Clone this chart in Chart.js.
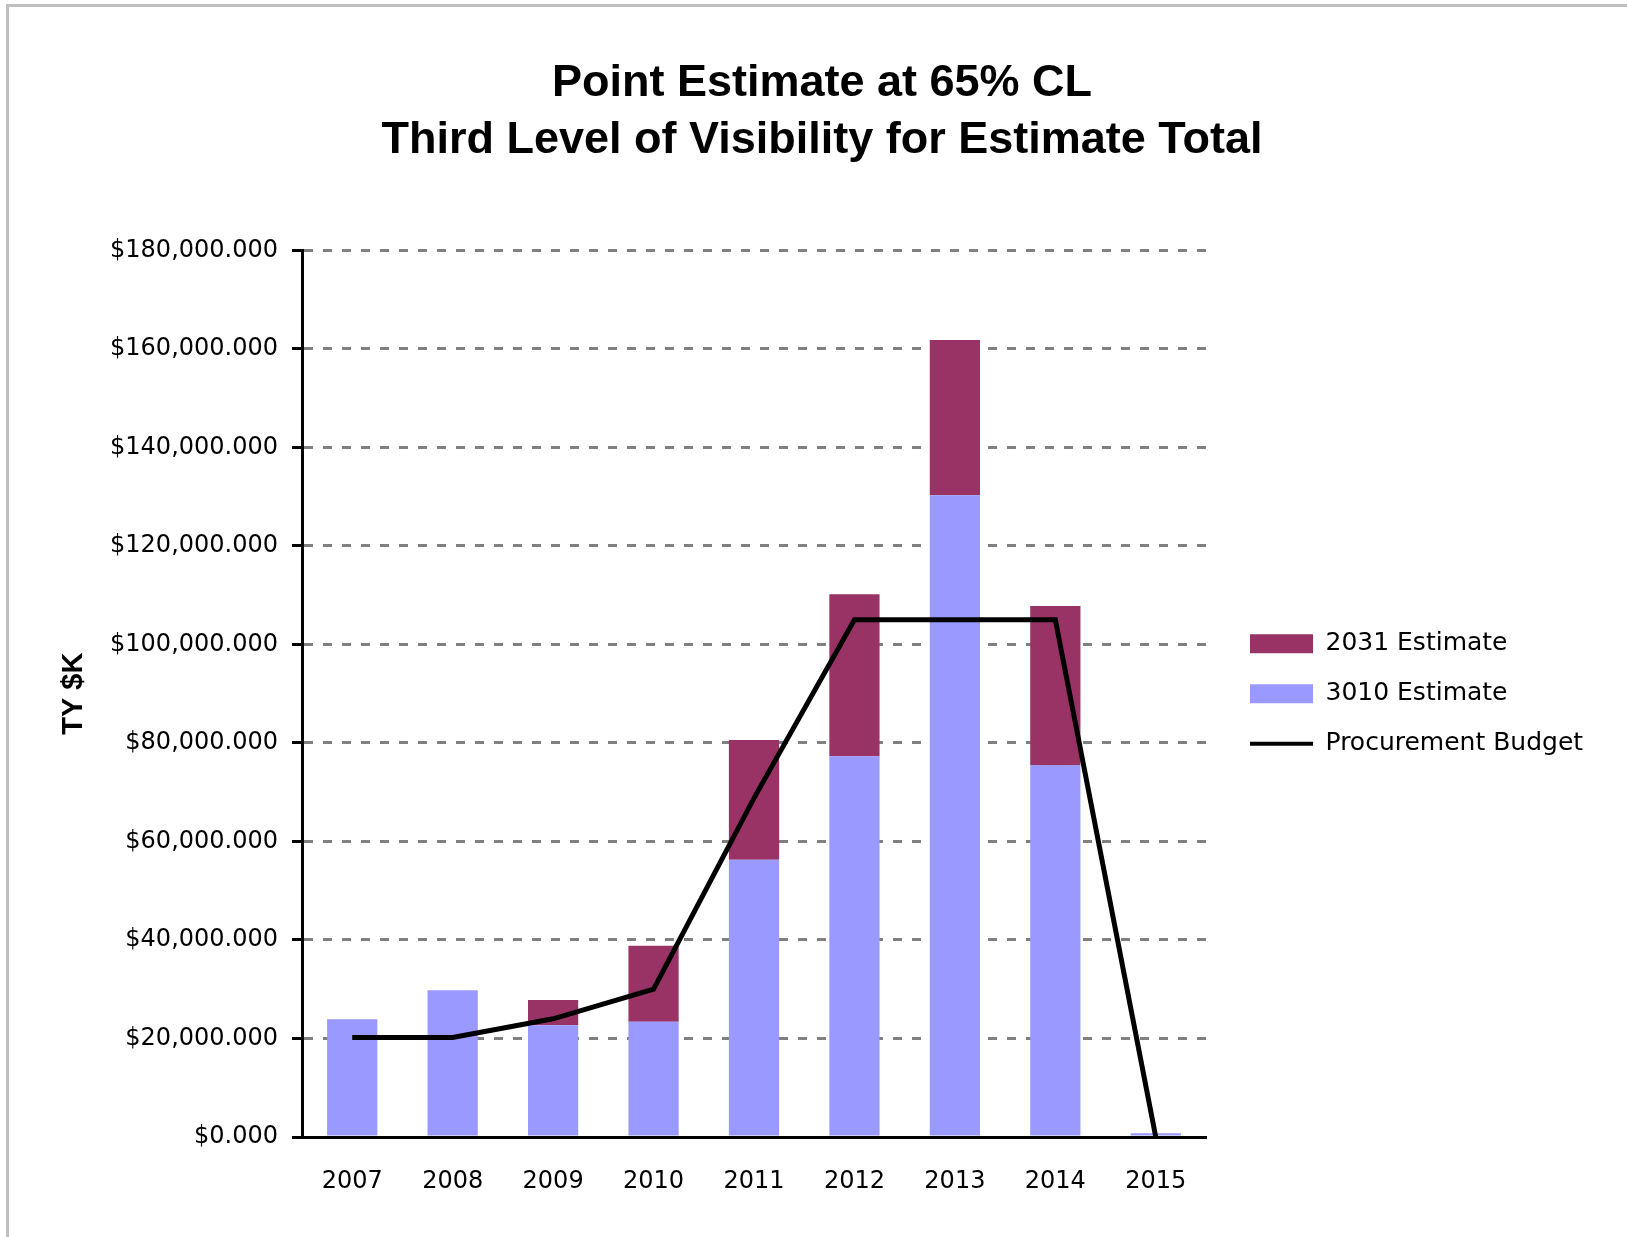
<!DOCTYPE html>
<html>
<head>
<meta charset="utf-8">
<script src="https://cdn.jsdelivr.net/npm/chart.js@4/dist/chart.umd.min.js"></script>
<style>
  html, body { margin: 0; padding: 0; background: #fff; overflow: hidden; }
  #wrap { position: relative; width: 1627px; height: 1237px; }
  #frame { position: absolute; left: 6px; top: 4px; right: -20px; bottom: -20px;
           border-left: 3px solid #c0c0c0; border-top: 3px solid #c0c0c0; pointer-events: none; }
  canvas { position: absolute; left: 0; top: 0; }
</style>
</head>
<body>
<div id="wrap">
  <div id="frame"></div>
  <canvas id="chart" width="1627" height="1237"></canvas>
</div>
<script>
// Fiscal years on the category axis
const years = ['2007', '2008', '2009', '2010', '2011', '2012', '2013', '2014', '2015'];

// Estimates in then-year $K
const est3010 = [23900, 29800, 22700, 23400, 56300, 77300, 130300, 75500, 750];
const est2031 = [0, 0, 5100, 15400, 24300, 32900, 31500, 32300, 0];

// Procurement budget line, $K
const procurementBudget = [20200, 20200, 24000, 30000, 68800, 105000, 105000, 105000, 0];

// Value-axis tick positions, $K
const yTickValues = [0, 20000, 40000, 60000, 80000, 100000, 120000, 140000, 160000, 180000];

const titleLines = ['Point Estimate at 65% CL', 'Third Level of Visibility for Estimate Total'];

const money = v => '$' + Number(v).toLocaleString('en-US', { minimumFractionDigits: 3, maximumFractionDigits: 3 });

Chart.defaults.font.family = "'DejaVu Sans', sans-serif";
Chart.defaults.color = '#000';

const LEGEND_WIDTH = 421;   // legend column from the plot edge to the canvas edge
const LEGEND_INSET = 19;    // gap between plot edge and legend column

// Keeps the legend column at a fixed width so the plot ends where it should
const legendPlacement = {
  id: 'legendPlacement',
  beforeLayout(chart) {
    const lg = chart.legend;
    if (lg && !lg.__fixedWidth) {
      const fit = lg.fit.bind(lg);
      lg.fit = function () { fit(); this.width = LEGEND_WIDTH; };
      lg.__fixedWidth = true;
    }
  },
  afterLayout(chart) {
    if (chart.legend) chart.legend.left += LEGEND_INSET;
  }
};

new Chart(document.getElementById('chart'), {
  type: 'bar',
  data: {
    labels: years,
    datasets: [
      { label: '2031 Estimate', data: est2031, backgroundColor: '#993366', borderWidth: 0,
        order: 2, stack: 'estimate' },
      { label: '3010 Estimate', data: est3010, backgroundColor: '#9999FF', borderWidth: 0,
        order: 1, stack: 'estimate' },
      { type: 'line', label: 'Procurement Budget', data: procurementBudget,
        borderColor: '#000', backgroundColor: '#000', borderWidth: 5,
        pointRadius: 0, pointHoverRadius: 0, tension: 0, fill: false,
        order: 0, stack: 'budget' }
    ]
  },
  options: {
    responsive: false,
    animation: false,
    devicePixelRatio: 1,
    categoryPercentage: 0.5,
    barPercentage: 1.0,
    layout: { padding: { left: 17, right: 0, top: 0, bottom: 0 } },
    plugins: {
      tooltip: { enabled: false },
      title: {
        display: true,
        text: titleLines,
        color: '#000',
        font: { family: "'Liberation Sans', Arial, sans-serif", size: 45, weight: 'bold', lineHeight: 1.27 },
        padding: { top: 55, bottom: 81 }
      },
      legend: {
        position: 'right',
        fullSize: false,
        labels: {
          color: '#000',
          font: { size: 25 },
          usePointStyle: true,
          pointStyleWidth: 63,
          boxWidth: 63,
          boxHeight: 19,
          padding: 25,
          sort: (a, b) => a.datasetIndex - b.datasetIndex,
          generateLabels(chart) {
            const items = Chart.defaults.plugins.legend.labels.generateLabels(chart);
            items.forEach(item => {
              const ds = chart.data.datasets[item.datasetIndex];
              if (ds.type === 'line') {
                item.pointStyle = 'line';
                item.lineWidth = 4;
                item.strokeStyle = '#000';
              } else {
                item.pointStyle = 'rect';
                item.lineWidth = 0;
                item.fillStyle = ds.backgroundColor;
              }
            });
            return items;
          }
        }
      }
    },
    scales: {
      x: {
        stacked: true,
        grid: { display: false },
        border: { display: true, color: '#000', width: 3 },
        ticks: { color: '#000', font: { size: 24 }, padding: 22, maxRotation: 0 },
        afterFit(scale) { scale.height = 100; }
      },
      y: {
        stacked: true,
        min: 0,
        max: 180000,
        afterBuildTicks(scale) { scale.ticks = yTickValues.map(v => ({ value: v })); },
        grid: { color: '#808080', lineWidth: 3, tickColor: '#000', tickWidth: 3, tickLength: 10 },
        border: { display: true, color: '#000', width: 3, dash: [9, 10] },
        ticks: { color: '#000', font: { size: 24 }, padding: 14, callback: v => money(v) },
        title: {
          display: true,
          text: 'TY $K',
          color: '#000',
          font: { family: "'Liberation Sans', Arial, sans-serif", size: 29, weight: 'bold' },
          padding: { top: 40, bottom: 0 }
        },
        afterFit(scale) { scale.width = 285; }
      }
    }
  },
  plugins: [legendPlacement]
});
</script>
</body>
</html>
